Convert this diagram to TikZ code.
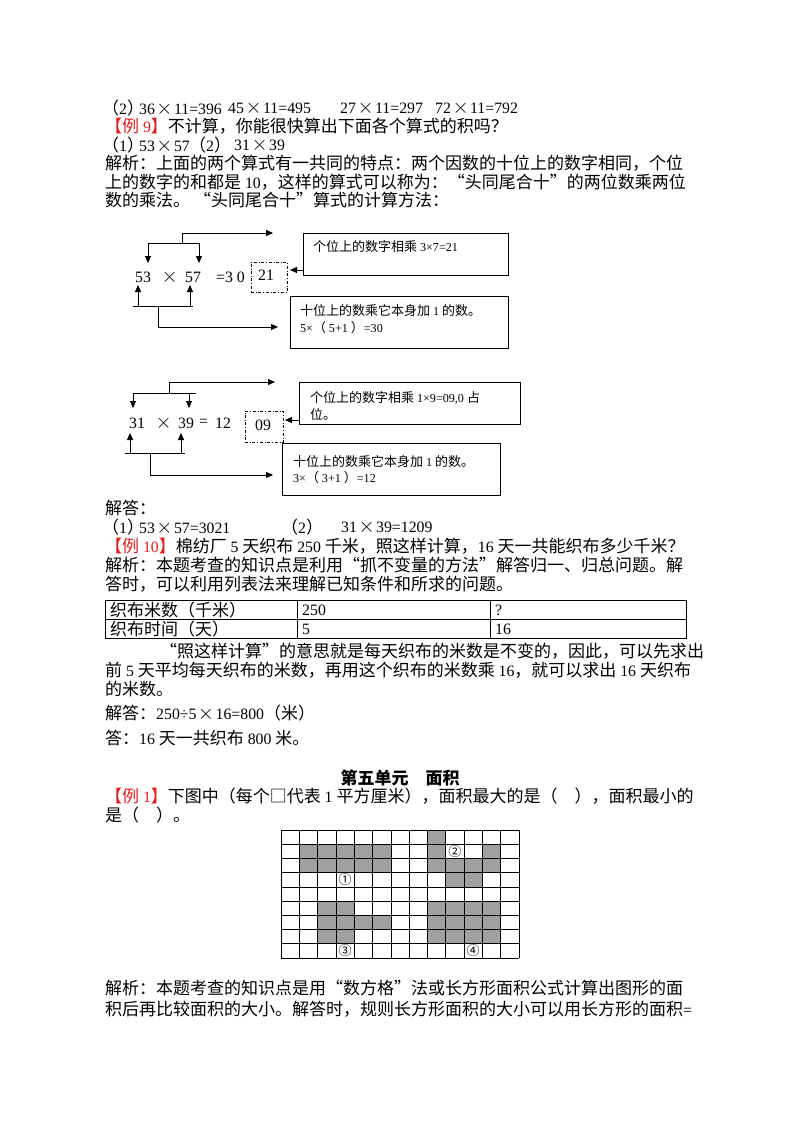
\documentclass[tikz,border=0pt]{standalone}
\usepackage{fontspec}
\setmainfont[Scale=0.93]{Liberation Serif}
\newfontfamily\cjk{Noto Sans CJK SC}
\usetikzlibrary{arrows.meta}
\XeTeXinterchartokenstate=1
\newXeTeXintercharclass\CJKcls
\newcount\cc
\def\setcls#1#2{\cc=#1 \loop \XeTeXcharclass\cc=\CJKcls \ifnum\cc<#2 \advance\cc 1 \repeat}
\setcls{"3000}{"303F}
\setcls{"4E00}{"9FFF}
\setcls{"FF00}{"FFEF}
\setcls{"2460}{"2473}
\setcls{"201C}{"201D}
\setcls{"25A1}{"25A1}
\XeTeXinterchartoks 0 \CJKcls = {\cjk}
\XeTeXinterchartoks 4095 \CJKcls = {\cjk}
\XeTeXinterchartoks \CJKcls 0 = {\rmfamily}
\XeTeXinterchartoks 4095 0 = {\rmfamily}
\definecolor{exred}{RGB}{225,30,30}
\definecolor{cellgray}{RGB}{160,160,160}
\newcommand\X{\kern1.5pt\scalebox{1.2}{$\times$}\kern1.5pt}
\newcommand\ex[1]{\textcolor{exred}{【例 #1】}}
\newcommand\PP[1]{\kern-3pt（#1）\kern-5pt}
\begin{document}
\begin{tikzpicture}[x=1pt,y=-1pt,
  txt/.style={anchor=west,inner sep=0pt,font=\fontsize{17}{18}\selectfont},
  dtxt/.style={anchor=west,inner sep=0pt,font=\fontsize{17}{18}\selectfont},
  btxt/.style={anchor=west,inner sep=0pt,font=\fontsize{13}{16}\selectfont},
  lbox/.style={draw,line width=0.9pt},
  dbox/.style={draw,dash dot,line width=0.6pt},
  ar/.style={-{Triangle[length=7pt,width=6pt]},line width=0.9pt},
  ln/.style={line width=0.9pt}]
\useasboundingbox (0,0) rectangle (800,1132);
\fill[white] (0,0) rectangle (800,1132);
% top text
\node[txt] (l1a) at (105,108) {\PP{2}36\X11=396};
\node[txt] (l1b) at (228,108) {45\X11=495};
\node[txt] (l1c) at (340,108) {27\X11=297};
\node[txt] (l1d) at (435,108) {72\X11=792};
\node[txt] (l2) at (105,126) {\ex{9}不计算，你能很快算出下面各个算式的积吗？};
\node[txt] (l3a) at (105,145) {\PP{1}53\X57};
\node[txt] (l3b) at (192,145) {\PP{2}};
\node[txt] (l3c) at (234,145) {31\X39};
\node[txt] (l4) at (105,163) {解析：上面的两个算式有一共同的特点：两个因数的十位上的数字相同，个位};
\node[txt] (l5) at (105,182) {上的数字的和都是 10，这样的算式可以称为：“头同尾合十”的两位数乘两位};
\node[txt] (l6) at (105,200) {数的乘法。 “头同尾合十”算式的计算方法：};
% diagram 1
\node[dtxt] (a53) at (135,277) {53};
\node[dtxt] (ax) at (160,277) {\X};
\node[dtxt] (a57) at (185,277) {57};
\node[dtxt] (aeq) at (216,277) {=3 0};
\node[dbox,minimum width=36pt,minimum height=30pt,inner sep=0pt] (d1) at (269,277) {};
\node[dtxt] (a21) at (258,275) {21};
\node[lbox,minimum width=205pt,minimum height=42pt,inner sep=0pt] (b1) at (405.5,254) {};
\node[btxt] at (313,247) {个位上的数字相乘 3×7=21};
\node[lbox,minimum width=218pt,minimum height=52pt,inner sep=0pt] (b2) at (399,322) {};
\node[btxt] at (300,311) {十位上的数乘它本身加 1 的数。};
\node[btxt] at (300,328) {5×（ 5+1 ）=30};
\coordinate (t1) at (182,233); \coordinate (t2) at (182,243);
\coordinate (t3) at (148,243); \coordinate (t4) at (199,243);
\draw[ar] (t1) -- (273,233);
\draw[ln] (t1) -- (t2) (t3) -- (t4);
\draw[ar] (t3) -- (148,263);
\draw[ar] (t4) -- (199,263);
\coordinate (u3) at (133,306); \coordinate (u4) at (193,306);
\draw[ln] (u3) -- (u4);
\draw[ar] (138,306) -- (138,285);
\draw[ar] (190,306) -- (190,285);
\draw[ar] (158,306) -- (158,327) -- (278,327);
\draw[ar] (b1.west |- 0,270) -- (290,270);
% diagram 2
\node[dtxt] (c31) at (129,423) {31};
\node[dtxt] (cx) at (154,423) {\X};
\node[dtxt] (c39) at (178,423) {39};
\node[dtxt] (ceq) at (199,423) {=};
\node[dtxt] (c12) at (215,423) {12};
\node[dbox,minimum width=38pt,minimum height=31pt,inner sep=0pt] (d2) at (264,426.5) {};
\node[dtxt] (c09) at (255,425) {09};
\node[lbox,minimum width=221pt,minimum height=42pt,inner sep=0pt] (b3) at (409.5,403) {};
\node[btxt] at (310,398) {个位上的数字相乘 1×9=09,0 占};
\node[btxt] at (310,414) {位。};
\node[lbox,minimum width=218pt,minimum height=52pt,inner sep=0pt] (b4) at (391,469) {};
\node[btxt] at (293,462) {十位上的数乘它本身加 1 的数。};
\node[btxt] at (293,478) {3×（ 3+1 ）=12};
\draw[ar] (169,382) -- (275,382);
\draw[ln] (169,382) -- (169,393) (133,393) -- (196,393);
\draw[ar] (133,393) -- (133,408);
\draw[ar] (189,393) -- (189,408);
\draw[ln] (125,453) -- (185,453);
\draw[ar] (130,453) -- (130,433);
\draw[ar] (181,453) -- (181,433);
\draw[ar] (150,453) -- (150,475) -- (273,475);
\draw[ar] (b3.west |- 0,420) -- (285,420);
% answer
\node[txt] (m1) at (105,508) {解答：};
\node[txt] (m2a) at (105,527) {\PP{1}53\X57=3021};
\node[txt] (m2b) at (281,527) {（2）};
\node[txt] (m2c) at (341,527) {31\X39=1209};
\node[txt] (m3) at (105,546) {\ex{10}棉纺厂 5 天织布 250 千米，照这样计算，16 天一共能织布多少千米？};
\node[txt] (m4) at (105,565) {解析：本题考查的知识点是利用“抓不变量的方法”解答归一、归总问题。解};
\node[txt] (m5) at (105,584) {答时，可以利用列表法来理解已知条件和所求的问题。};
% table
\draw[line width=1pt] (105,600) rectangle (686,638);
\draw[line width=0.7pt] (105,619) -- (686,619) (297,600) -- (297,638) (490,600) -- (490,638);
\node[txt] (t11) at (110,610) {织布米数（千米）};
\node[txt] (t12) at (302,610) {250};
\node[txt] (t13) at (495,610) {?};
\node[txt] (t21) at (110,629) {织布时间（天）};
\node[txt] (t22) at (302,629) {5};
\node[txt] (t23) at (495,629) {16};
\node[txt] (p1) at (160,651) {“照这样计算”的意思就是每天织布的米数是不变的，因此，可以先求出};
\node[txt] (p2) at (105,670) {前 5 天平均每天织布的米数，再用这个织布的米数乘 16，就可以求出 16 天织布};
\node[txt] (p3) at (105,689) {的米数。};
\node[txt] (p4) at (105,713) {解答：250÷5\X16=800（米）};
\node[txt] (p5) at (105,738) {答：16 天一共织布 800 米。};
\node[inner sep=0pt,font=\fontsize{17}{18}\selectfont\bfseries] (title) at (400,778) {第五单元\hspace{1em}面积};
\node[txt] (q1) at (105,796) {\ex{1}下图中（每个□代表 1 平方厘米），面积最大的是（\hspace{1em}），面积最小的};
\node[txt] (q2) at (105,815) {是（\hspace{1em}）。};
% grid
\foreach \c/\r in {1/1,2/1,3/1,4/1,5/1,1/2,2/2,3/2,4/2,5/2,
  8/0,8/1,11/1,8/2,9/2,10/2,11/2,9/3,10/3,
  2/5,3/5,2/6,3/6,4/6,5/6,2/7,3/7,
  8/5,9/5,10/5,11/5,8/6,9/6,10/6,11/6,8/7,9/7,10/7,11/7}
  \fill[cellgray] (281+\c*18.3,830+\r*14.22) rectangle ++(18.3,14.22);
\foreach \c in {0,...,13} \draw[line width=0.6pt] (281+\c*18.3,830) -- (281+\c*18.3,958);
\foreach \r in {0,...,9} \draw[line width=0.6pt] (281,830+\r*14.22) -- (519,830+\r*14.22);
\foreach \c/\r/\t/\n in {3/3/①/g1,9/1/②/g2,3/8/③/g3,10/8/④/g4}
  \node[fill=white,inner sep=0.3pt,font=\fontsize{13}{13}\selectfont] (\n) at (281+\c*18.3+9.15,830+\r*14.22+7.11) {\t};
\node[txt] (r1) at (105,988) {解析：本题考查的知识点是用“数方格”法或长方形面积公式计算出图形的面};
\node[txt] (r2) at (105,1009) {积后再比较面积的大小。解答时，规则长方形面积的大小可以用长方形的面积=};
\end{tikzpicture}
\end{document}
